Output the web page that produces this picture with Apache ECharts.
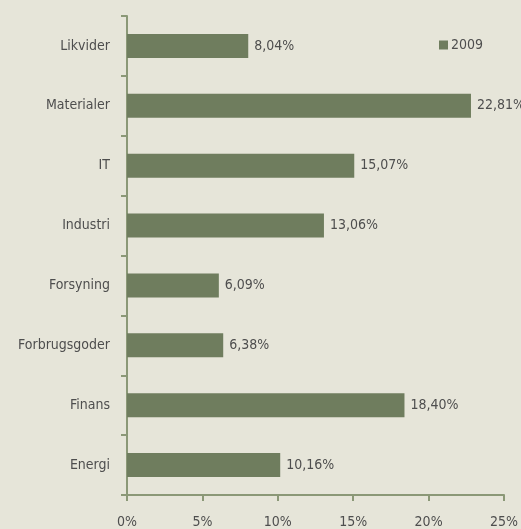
<!DOCTYPE html>
<html>
<head>
<meta charset="utf-8">
<script src="https://cdn.jsdelivr.net/npm/echarts@6/dist/echarts.min.js"></script>
<style>
    html, body { margin: 0; padding: 0; background: #e6e5d9; }
    #chart { width: 521px; height: 529px; }
</style>
</head>
<body>
<div id="chart"></div>
<script>
// data
const categories = ['Likvider', 'Materialer', 'IT', 'Industri', 'Forsyning', 'Forbrugsgoder', 'Finans', 'Energi'];
const values2009 = [8.04, 22.81, 15.07, 13.06, 6.09, 6.38, 18.40, 10.16];
const seriesName = '2009';

const font = '"Liberation Sans Narrow", "DejaVu Sans Condensed", sans-serif';
const textColor = '#4e4e4e';
const axisColor = '#8b9877';

var chart = echarts.init(document.getElementById('chart'));

chart.setOption({
    backgroundColor: '#e6e5d9',
    animation: false,
    textStyle: { fontFamily: font },
    grid: { left: 127, right: 14, top: 16, bottom: 33 },
    legend: {
        data: [seriesName],
        left: 434,
        top: 33,
        itemWidth: 9,
        itemHeight: 9,
        itemGap: 4,
        icon: 'rect',
        textStyle: { fontFamily: font, fontSize: 14, color: textColor, padding: [0, 0, 0, -2] }
    },
    xAxis: {
        type: 'value',
        min: 0,
        max: 25,
        interval: 5,
        axisLine: { show: true, lineStyle: { color: axisColor, width: 2 } },
        axisTick: { show: true, length: 6, lineStyle: { color: axisColor, width: 2 } },
        splitLine: { show: false },
        axisLabel: {
            formatter: '{value}%',
            fontFamily: font,
            fontSize: 14,
            color: textColor,
            margin: 20
        }
    },
    yAxis: {
        type: 'category',
        data: categories,
        inverse: true,
        axisLine: { show: true, lineStyle: { color: axisColor, width: 2 } },
        axisTick: { show: true, length: 6, lineStyle: { color: axisColor, width: 2 } },
        axisLabel: {
            fontFamily: font,
            fontSize: 14,
            color: textColor,
            margin: 17
        }
    },
    series: [{
        name: seriesName,
        type: 'bar',
        data: values2009,
        barWidth: 24,
        itemStyle: { color: '#6f7d5e' },
        label: {
            show: true,
            position: 'right',
            distance: 6,
            fontFamily: font,
            fontSize: 14,
            color: textColor,
            formatter: p => p.value.toFixed(2).replace('.', ',') + '%'
        }
    }]
});
</script>
</body>
</html>
